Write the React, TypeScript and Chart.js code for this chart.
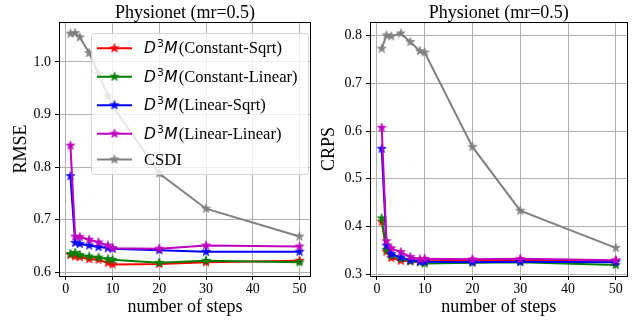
import React, { useEffect, useRef } from 'react';
import { Chart, registerables } from 'chart.js';

Chart.register(...registerables);

// ---------------- data ----------------
const steps = [1, 2, 3, 5, 7, 9, 10, 20, 30, 50];
const xTickStep = 10;
const plotTitle = 'Physionet (mr=0.5)';
const xAxisLabel = 'number of steps';
const seriesLabels = ['Constant-Sqrt', 'Constant-Linear', 'Linear-Sqrt', 'Linear-Linear', 'CSDI'];
const seriesIsD3M = [true, true, true, true, false];
const seriesColors = ['#ff0000', '#008000', '#0000ff', '#bf00bf', '#808080'];

const rmseConstantSqrt = [0.633, 0.630, 0.629, 0.625, 0.624, 0.618, 0.615, 0.616, 0.619, 0.622];
const rmseConstantLinear = [0.635, 0.637, 0.633, 0.630, 0.628, 0.625, 0.624, 0.618, 0.622, 0.619];
const rmseLinearSqrt = [0.783, 0.656, 0.654, 0.651, 0.648, 0.646, 0.645, 0.642, 0.639, 0.639];
const rmseLinearLinear = [0.841, 0.668, 0.667, 0.662, 0.657, 0.651, 0.646, 0.645, 0.651, 0.649];
const rmseCSDI = [1.054, 1.055, 1.047, 1.017, 0.977, 0.936, 0.917, 0.788, 0.721, 0.668];

const crpsConstantSqrt = [0.410, 0.347, 0.334, 0.328, 0.327, 0.326, 0.327, 0.328, 0.329, 0.328];
const crpsConstantLinear = [0.417, 0.351, 0.339, 0.332, 0.327, 0.325, 0.322, 0.324, 0.325, 0.319];
const crpsLinearSqrt = [0.563, 0.360, 0.342, 0.335, 0.329, 0.326, 0.326, 0.325, 0.326, 0.325];
const crpsLinearLinear = [0.607, 0.369, 0.354, 0.346, 0.336, 0.331, 0.332, 0.331, 0.332, 0.329];
const crpsCSDI = [0.773, 0.801, 0.799, 0.805, 0.787, 0.768, 0.765, 0.567, 0.433, 0.355];

const xRange = [-1.45, 52.45];
const rmseRange = [0.593, 1.076];
const crpsRange = [0.296, 0.829];
const yTickStep = 0.1;

// ---------------- helpers ----------------
const SERIF = '"Liberation Serif", "Times New Roman", serif';
const MATH = '"DejaVu Sans", sans-serif';

function makeStar(color: string): HTMLCanvasElement {
  const size = 12;
  const c = document.createElement('canvas');
  c.width = size;
  c.height = size;
  const ctx = c.getContext('2d')!;
  const cx = size / 2, cy = size / 2, R = 4.6, r = R * 0.382;
  ctx.beginPath();
  for (let i = 0; i < 10; i++) {
    const rad = i % 2 === 0 ? R : r;
    const a = -Math.PI / 2 + (i * Math.PI) / 5;
    const x = cx + rad * Math.cos(a);
    const y = cy + rad * Math.sin(a);
    if (i === 0) ctx.moveTo(x, y);
    else ctx.lineTo(x, y);
  }
  ctx.closePath();
  ctx.fillStyle = color;
  ctx.fill();
  ctx.strokeStyle = color;
  ctx.lineWidth = 0.8;
  ctx.stroke();
  return c;
}

function drawLegend(ctx: CanvasRenderingContext2D, stars: HTMLCanvasElement[]) {
  const bx = 91, by = 33, bw = 217, bh = 141;
  ctx.save();
  ctx.beginPath();
  (ctx as any).roundRect(bx + 0.5, by + 0.5, bw, bh, 3);
  ctx.fillStyle = 'rgba(255,255,255,0.8)';
  ctx.fill();
  ctx.strokeStyle = 'rgba(204,204,204,0.8)';
  ctx.lineWidth = 1;
  ctx.stroke();
  const rowY = [48.3, 76.7, 105.2, 133.7, 159.5];
  seriesLabels.forEach((lab, i) => {
    const y = rowY[i];
    ctx.strokeStyle = seriesColors[i];
    ctx.lineWidth = 2;
    ctx.beginPath();
    ctx.moveTo(97, y);
    ctx.lineTo(132, y);
    ctx.stroke();
    ctx.drawImage(stars[i], 114.5 - stars[i].width / 2, y - stars[i].height / 2);
    let x = 144;
    const base = y + (seriesIsD3M[i] ? 5 : 5.7);
    ctx.fillStyle = '#000';
    ctx.textBaseline = 'alphabetic';
    ctx.textAlign = 'left';
    if (seriesIsD3M[i]) {
      ctx.font = `italic 15.5px ${MATH}`;
      ctx.fillText('D', x, base);
      x += ctx.measureText('D').width + 1;
      ctx.font = `10.8px ${MATH}`;
      ctx.fillText('3', x, base - 6);
      x += ctx.measureText('3').width + 0.5;
      ctx.font = `italic 15.5px ${MATH}`;
      ctx.fillText('M', x, base);
      x += ctx.measureText('M').width + 1;
      ctx.font = `16.6px ${SERIF}`;
      ctx.fillText('(' + lab + ')', x, base);
    } else {
      ctx.font = `16.6px ${SERIF}`;
      ctx.fillText(lab, x, base);
    }
  });
  ctx.restore();
}

type PanelProps = {
  left: number;
  values: number[][];
  yLabel: string;
  yRange: number[];
  yWidth: number;
  yTitlePad: number;
  padRight: number;
  showLegend: boolean;
};

function Panel(props: PanelProps) {
  const ref = useRef<HTMLCanvasElement>(null);
  useEffect(() => {
    const canvas = ref.current!;
    const stars = seriesColors.map((c) => makeStar(c));
    const framePlugin = {
      id: 'frameTitle',
      afterDraw(chart: any) {
        const { ctx, chartArea: a } = chart;
        const l = Math.round(a.left), t = Math.round(a.top);
        const r = Math.round(a.right), b = Math.round(a.bottom);
        ctx.save();
        ctx.strokeStyle = '#000';
        ctx.lineWidth = 1;
        ctx.strokeRect(l + 0.5, t + 0.5, r - l - 1, b - t);
        ctx.font = `18px ${SERIF}`;
        ctx.fillStyle = '#000';
        ctx.textAlign = 'center';
        ctx.textBaseline = 'alphabetic';
        ctx.fillText(plotTitle, (a.left + a.right) / 2, 17.5);
        ctx.restore();
        if (props.showLegend) drawLegend(ctx, stars);
      },
    };
    const tickFont = { family: SERIF, size: 14 };
    const titleFont = { family: SERIF, size: 18 };
    const chart = new Chart(canvas, {
      type: 'line',
      data: {
        datasets: props.values.map((vals, i) => ({
          label: seriesIsD3M[i] ? 'D³M(' + seriesLabels[i] + ')' : seriesLabels[i],
          data: steps.map((x, j) => ({ x, y: vals[j] })),
          borderColor: seriesColors[i],
          backgroundColor: seriesColors[i],
          borderWidth: 2,
          pointStyle: stars[i] as any,
          pointRadius: 4,
          pointHoverRadius: 4,
          tension: 0,
          fill: false,
          order: props.values.length - i,
        })),
      },
      options: {
        responsive: false,
        animation: false,
        devicePixelRatio: 1,
        events: [],
        layout: { padding: { left: 0, right: props.padRight, top: 22, bottom: 0 } },
        plugins: { legend: { display: false }, tooltip: { enabled: false }, title: { display: false } },
        scales: {
          x: {
            type: 'linear',
            min: xRange[0],
            max: xRange[1],
            afterFit: (s: any) => { s.height = 47; },
            ticks: {
              stepSize: xTickStep,
              includeBounds: false,
              font: tickFont,
              color: '#000',
              padding: 1,
              maxRotation: 0,
              callback: (v: any) => String(v),
            },
            grid: { color: '#b0b0b0', lineWidth: 1, tickLength: 4, tickColor: '#000', drawTicks: true },
            border: { display: false },
            title: { display: true, text: xAxisLabel, font: titleFont, color: '#000', padding: { top: 0, bottom: 5 } },
          },
          y: {
            type: 'linear',
            min: props.yRange[0],
            max: props.yRange[1],
            afterFit: (s: any) => { s.width = props.yWidth; },
            ticks: {
              stepSize: yTickStep,
              includeBounds: false,
              font: tickFont,
              color: '#000',
              padding: 4,
              callback: (v: any) => Number(v).toFixed(1),
            },
            grid: { color: '#b0b0b0', lineWidth: 1, tickLength: 4, tickColor: '#000', drawTicks: true },
            border: { display: false },
            title: { display: true, text: props.yLabel, font: titleFont, color: '#000', padding: { top: props.yTitlePad, bottom: 0 } },
          },
        },
      } as any,
      plugins: [framePlugin],
    });
    return () => chart.destroy();
  }, []);
  return (
    <canvas
      ref={ref}
      width={317}
      height={323}
      style={{ position: 'absolute', left: props.left, top: 0, width: 317, height: 323 }}
    />
  );
}

export default function App() {
  return (
    <div style={{ position: 'absolute', left: 0, top: 0, width: 634, height: 323, background: '#fff' }}>
      <Panel
        left={0}
        values={[rmseConstantSqrt, rmseConstantLinear, rmseLinearSqrt, rmseLinearLinear, rmseCSDI]}
        yLabel="RMSE"
        yRange={rmseRange}
        yWidth={59}
        yTitlePad={10}
        padRight={2}
        showLegend={true}
      />
      <Panel
        left={317}
        values={[crpsConstantSqrt, crpsConstantLinear, crpsLinearSqrt, crpsLinearLinear, crpsCSDI]}
        yLabel="CRPS"
        yRange={crpsRange}
        yWidth={53}
        yTitlePad={1.2}
        padRight={6.5}
        showLegend={false}
      />
    </div>
  );
}
